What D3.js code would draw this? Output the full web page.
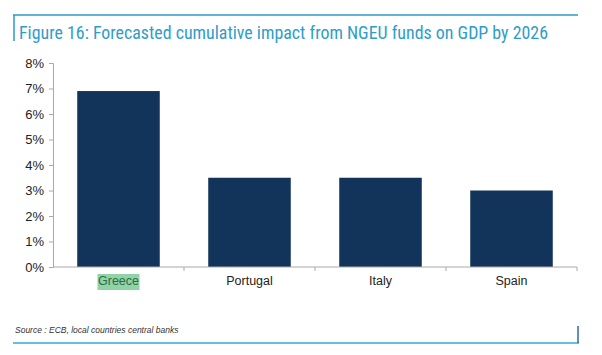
<!DOCTYPE html>
<html><head><meta charset="utf-8">
<script src="https://cdn.jsdelivr.net/npm/d3@7"></script>
<style>body{margin:0;background:#fff;}svg{display:block;font-family:"Liberation Sans",Arial,sans-serif;}</style>
</head><body><svg id="c" width="602" height="355"></svg>
<script>
const categories = ["Greece","Portugal","Italy","Spain"];
const values = [6.9, 3.5, 3.5, 3.0];
const yTicks = [0,1,2,3,4,5,6,7,8];
const title = "Figure 16: Forecasted cumulative impact from NGEU funds on GDP by 2026";
const source = "Source : ECB, local countries central banks";

const svg = d3.select("#c");
const x0 = 53, x1 = 577;
const x = d3.scaleBand().domain(categories).range([x0, x1]).paddingInner(0.37).paddingOuter(0.185);
const y = d3.scaleLinear().domain([0,8]).range([267, 63]);

// frame
svg.append("line").attr("x1",13).attr("x2",578).attr("y1",15).attr("y2",15).attr("stroke","#2d9ac4").attr("stroke-width",1.5);
svg.append("line").attr("x1",14).attr("x2",14).attr("y1",15).attr("y2",41).attr("stroke","#2d9ac4").attr("stroke-width",1.5);
svg.append("text").attr("x",19).attr("y",39).attr("font-size",18)
  .attr("font-family","'Liberation Sans Narrow','Roboto Condensed','Liberation Sans',sans-serif")
  .attr("fill","#2f9dc7")
  .attr("textLength",529).attr("lengthAdjust","spacingAndGlyphs").text(title);

// bars
svg.append("g").selectAll("rect").data(categories).join("rect")
  .attr("x",d=>x(d)).attr("width",x.bandwidth())
  .attr("y",(d,i)=>y(values[i])).attr("height",(d,i)=>y(0)-y(values[i]))
  .attr("fill","#12345a");

// y axis
const ya = svg.append("g").attr("transform",`translate(${x0},0)`)
  .call(d3.axisLeft(y).tickValues(yTicks).tickFormat(d=>d+"%").tickSize(4).tickPadding(5));
ya.select(".domain").attr("stroke","#aaa");
ya.selectAll(".tick line").attr("stroke","#aaa");
ya.selectAll("text").attr("font-size",13).attr("fill","#222").attr("font-family","Liberation Sans, Arial, sans-serif");

// x axis
const xa = svg.append("g").attr("transform",`translate(0,267)`);
xa.append("line").attr("x1",x0).attr("x2",x1).attr("y1",0).attr("y2",0).attr("stroke","#aaa");
const edges = categories.map(c=>x(c)-x.step()*x.paddingInner()/2).slice(1).concat([x1]);
xa.selectAll("line.t").data(edges).join("line").attr("class","t")
  .attr("x1",d=>d).attr("x2",d=>d).attr("y1",0).attr("y2",4).attr("stroke","#aaa");
const lbl = xa.selectAll("g.l").data(categories).join("g").attr("class","l")
  .attr("transform",d=>`translate(${x(d)+x.bandwidth()/2},18)`);
lbl.each(function(d,i){
  const g=d3.select(this);
  if(i===0){
    g.append("rect").attr("x",-21).attr("y",-11).attr("width",42).attr("height",16).attr("fill","#8fd3a6");
  }
  g.append("text").attr("text-anchor","middle").attr("font-size",12.5)
   .attr("fill",i===0?"#2f6a45":"#222").text(d);
});

// source & bottom frame
svg.append("text").attr("x",15).attr("y",333).attr("font-size",8.5).attr("font-style","italic").attr("fill","#333").text(source);
svg.append("line").attr("x1",13).attr("x2",579).attr("y1",343).attr("y2",343).attr("stroke","#36a9d4").attr("stroke-width",1.5);
svg.append("line").attr("x1",578).attr("x2",578).attr("y1",326).attr("y2",343).attr("stroke","#2a6f9a").attr("stroke-width",1.5);
</script></body></html>
